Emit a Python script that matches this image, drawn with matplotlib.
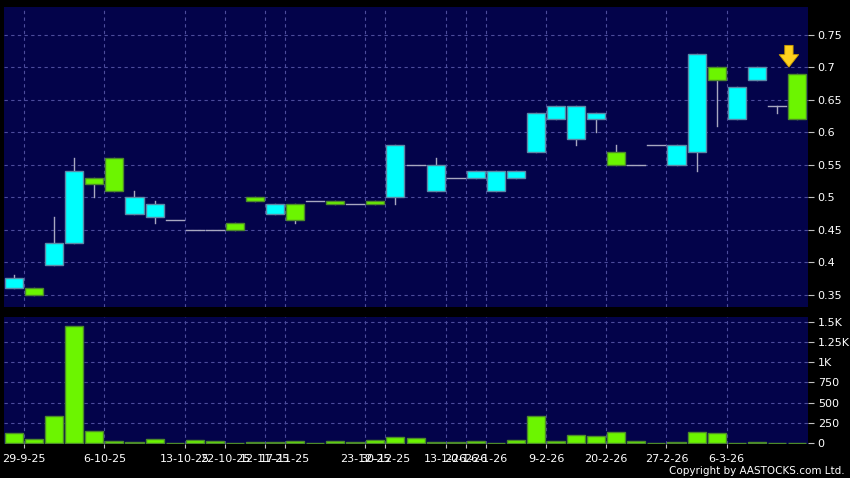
import matplotlib
matplotlib.use("Agg")
import matplotlib.pyplot as plt
import numpy as np

# ---------------- data ----------------
opens  = [0.36, 0.36, 0.395, 0.43, 0.53, 0.56, 0.475, 0.47, 0.465, 0.45,
          0.45, 0.46, 0.50, 0.475, 0.49, 0.495, 0.495, 0.49, 0.495, 0.50,
          0.55, 0.51, 0.53, 0.53, 0.51, 0.53, 0.57, 0.62, 0.59, 0.62,
          0.57, 0.55, 0.58, 0.55, 0.57, 0.70, 0.62, 0.68, 0.64, 0.69]
closes = [0.375, 0.35, 0.43, 0.54, 0.52, 0.51, 0.50, 0.49, 0.465, 0.45,
          0.45, 0.45, 0.495, 0.49, 0.465, 0.495, 0.49, 0.49, 0.49, 0.58,
          0.55, 0.55, 0.53, 0.54, 0.54, 0.54, 0.63, 0.64, 0.64, 0.63,
          0.55, 0.55, 0.58, 0.58, 0.72, 0.68, 0.67, 0.70, 0.64, 0.62]
highs  = [0.38, 0.36, 0.47, 0.56, 0.53, 0.56, 0.51, 0.495, 0.465, 0.45,
          0.45, 0.46, 0.50, 0.49, 0.49, 0.495, 0.495, 0.49, 0.495, 0.58,
          0.55, 0.56, 0.53, 0.54, 0.54, 0.54, 0.63, 0.64, 0.64, 0.63,
          0.58, 0.55, 0.58, 0.58, 0.72, 0.70, 0.67, 0.70, 0.64, 0.69]
lows   = [0.36, 0.35, 0.395, 0.43, 0.50, 0.51, 0.475, 0.46, 0.465, 0.45,
          0.45, 0.45, 0.495, 0.475, 0.46, 0.495, 0.49, 0.49, 0.49, 0.49,
          0.55, 0.51, 0.53, 0.53, 0.51, 0.53, 0.57, 0.62, 0.58, 0.60,
          0.55, 0.55, 0.58, 0.55, 0.54, 0.61, 0.62, 0.68, 0.63, 0.62]
volumes = [120, 50, 340, 1450, 150, 20, 8, 45, 0, 42,
           20, 0, 8, 8, 20, 0, 20, 8, 33, 75,
           62, 8, 8, 20, 5, 33, 335, 30, 95, 86,
           140, 20, 0, 12, 132, 123, 6, 10, 6, 3]

date_label_idx = [1, 5, 9, 11, 13, 14, 18, 19, 22, 23, 24, 27, 30, 33, 36]
date_labels = ["29-9-25", "6-10-25", "13-10-25", "22-10-25", "12-11-25", "17-11-25",
               "23-12-25", "30-12-25", "13-1-26", "20-1-26", "26-1-26",
               "9-2-26", "20-2-26", "27-2-26", "6-3-26"]

price_ticks = [0.35, 0.4, 0.45, 0.5, 0.55, 0.6, 0.65, 0.7, 0.75]
price_tick_labels = ["0.35", "0.4", "0.45", "0.5", "0.55", "0.6", "0.65", "0.7", "0.75"]
vol_ticks = [0, 250, 500, 750, 1000, 1250, 1500]
vol_tick_labels = ["0", "250", "500", "750", "1K", "1.25K", "1.5K"]

# ---------------- style ----------------
BG = "#000000"
PANEL = "#03034a"
GRID = "#4c4c9c"
CYAN = "#00ffff"
CYAN_EDGE = "#5a8aa8"
GREEN = "#6cf500"
GREEN_EDGE = "#4c8a2a"
WICK = "#a8a8c0"
TXT = "#ffffff"

W, H = 850, 478
fig = plt.figure(figsize=(W / 100, H / 100), dpi=100, facecolor=BG)

def frac(x0, y0, x1, y1):
    return [x0 / W, 1 - y1 / H, (x1 - x0) / W, (y1 - y0) / H]

ax = fig.add_axes(frac(4, 7, 808, 306.7))
axv = fig.add_axes(frac(4, 316.7, 808, 444))

n = len(opens)
xs = np.arange(n)
bw = 0.9
grid_x = [i - 0.5 for i in date_label_idx]

for a in (ax, axv):
    a.set_facecolor(PANEL)
    for s in a.spines.values():
        s.set_visible(False)
    a.set_xlim(-0.5, 39.55)
    for gx in grid_x:
        a.axvline(gx, color=GRID, lw=0.8, ls=(0, (3, 3)), zorder=1)
    a.yaxis.tick_right()
    a.tick_params(axis="y", colors="#c0c0c0", labelcolor=TXT, length=4, width=0.8,
                  pad=3, labelsize=8)

# price panel
ax.set_ylim(0.3315, 0.7931)
ax.set_yticks(price_ticks)
ax.set_yticklabels(price_tick_labels)
for t in price_ticks:
    ax.axhline(t, color=GRID, lw=0.8, ls=(0, (3, 3)), zorder=1)
ax.set_xticks([])

for i in range(n):
    o, c, h, l = opens[i], closes[i], highs[i], lows[i]
    if o == c:
        ax.plot([i - bw / 2, i + bw / 2], [o, o], color=WICK, lw=1.0, zorder=3)
        if h > o or l < o:
            ax.plot([i, i], [l, h], color=WICK, lw=1.0, zorder=2)
        continue
    up = c > o
    fc = CYAN if up else GREEN
    ec = CYAN_EDGE if up else GREEN_EDGE
    lo, hi = min(o, c), max(o, c)
    ax.plot([i, i], [l, h], color=WICK, lw=1.0, zorder=2)
    ax.bar(i, hi - lo, bottom=lo, width=bw, color=fc, edgecolor=ec, lw=1.0, zorder=3)

# yellow arrow above the last candle
ax.annotate("", xy=(n - 1.4, 0.7005), xytext=(n - 1.4, 0.734),
            arrowprops=dict(arrowstyle="simple,head_width=1.4,head_length=0.9,tail_width=0.6",
                            mutation_scale=10, shrinkA=0, shrinkB=0,
                            fc="#ffd21e", ec="#c89a00", lw=0.6), zorder=5)

# volume panel
axv.set_ylim(-12, 1562)
axv.set_yticks(vol_ticks)
axv.set_yticklabels(vol_tick_labels)
for t in vol_ticks[1:]:
    axv.axhline(t, color=GRID, lw=0.8, ls=(0, (3, 3)), zorder=1)
axv.bar(xs, volumes, width=bw, color=GREEN, edgecolor=GREEN_EDGE, lw=1.0, zorder=3)
axv.set_xticks(grid_x)
axv.set_xticklabels(date_labels)
axv.tick_params(axis="x", colors="#c0c0c0", labelcolor=TXT, length=3, width=0.8,
                pad=4, labelsize=8)

fig.text(845 / W, 1 - 471.5 / H, "Copyright by AASTOCKS.com Ltd.", color=TXT,
         fontsize=7.5, ha="right", va="center")

fig.savefig("out.png", dpi=100, facecolor=BG)
